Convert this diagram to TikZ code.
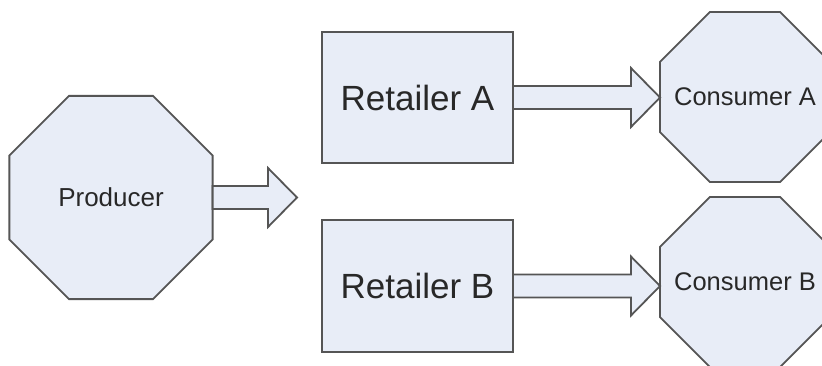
\documentclass[tikz,border=0pt]{standalone}
\usepackage{fontspec}
\setmainfont{Liberation Sans}
\usetikzlibrary{shapes.geometric,calc}

\definecolor{boxfill}{RGB}{232,237,247}
\definecolor{boxline}{RGB}{85,85,85}
\definecolor{boxtext}{RGB}{40,40,40}

\tikzset{
  shapebase/.style={draw=boxline, fill=boxfill, line width=1.8pt, text=boxtext,
    inner sep=0pt, outer sep=0pt},
  octa/.style={shapebase, regular polygon, regular polygon sides=8},
  retailbox/.style={shapebase, rectangle, minimum width=191pt, minimum height=131pt,
    font=\fontsize{35}{40}\selectfont},
  blockarr/.style={draw=boxline, fill=boxfill, line width=1.8pt, line join=miter},
}

% Octagon labels take no width, so the size alone fixes the octagon
\newcommand\octlabel[1]{\makebox[0pt]{#1}}

% Wide hollow arrow from the source node's centre line to the target point
\newcommand\blockarrow[2]{%
  \draw[blockarr] let \p1=(#1), \p2=(#2) in
    (\x1,\y1+11.5pt) -- (\x2-29pt,\y1+11.5pt) -- (\x2-29pt,\y1+29.5pt)
    -- (\x2,\y1) -- (\x2-29pt,\y1-29.5pt) -- (\x2-29pt,\y1-11.5pt)
    -- (\x1,\y1-11.5pt) -- cycle;}

\begin{document}
\begin{tikzpicture}[x=1pt, y=-1pt]
  \fill[white] (0,0) rectangle (822,365);
  \clip (0,0) rectangle (822,365);

  % producer and its outgoing arrow
  \node[octa, minimum size=220pt, font=\fontsize{26}{30}\selectfont] (prod) at (111,197.5) {\octlabel{Producer}};
  \coordinate (prodtip) at (297,198);
  \blockarrow{prod.east}{prodtip}

  % retailers
  \node[retailbox] (reta) at (417.5,97.5) {Retailer A};
  \node[retailbox, minimum height=132pt] (retb) at (417.5,286) {Retailer B};

  % consumers
  \node[octa, minimum size=184pt, font=\fontsize{25.5}{30}\selectfont] (cona) at (745,97) {\octlabel{Consumer A}};
  \node[octa, minimum size=184pt, font=\fontsize{25.5}{30}\selectfont] (conb) at (745,282) {\octlabel{Consumer B}};

  % retailer to consumer flows
  \blockarrow{reta.east}{cona.west}
  \blockarrow{retb.east}{conb.west}
\end{tikzpicture}
\end{document}
